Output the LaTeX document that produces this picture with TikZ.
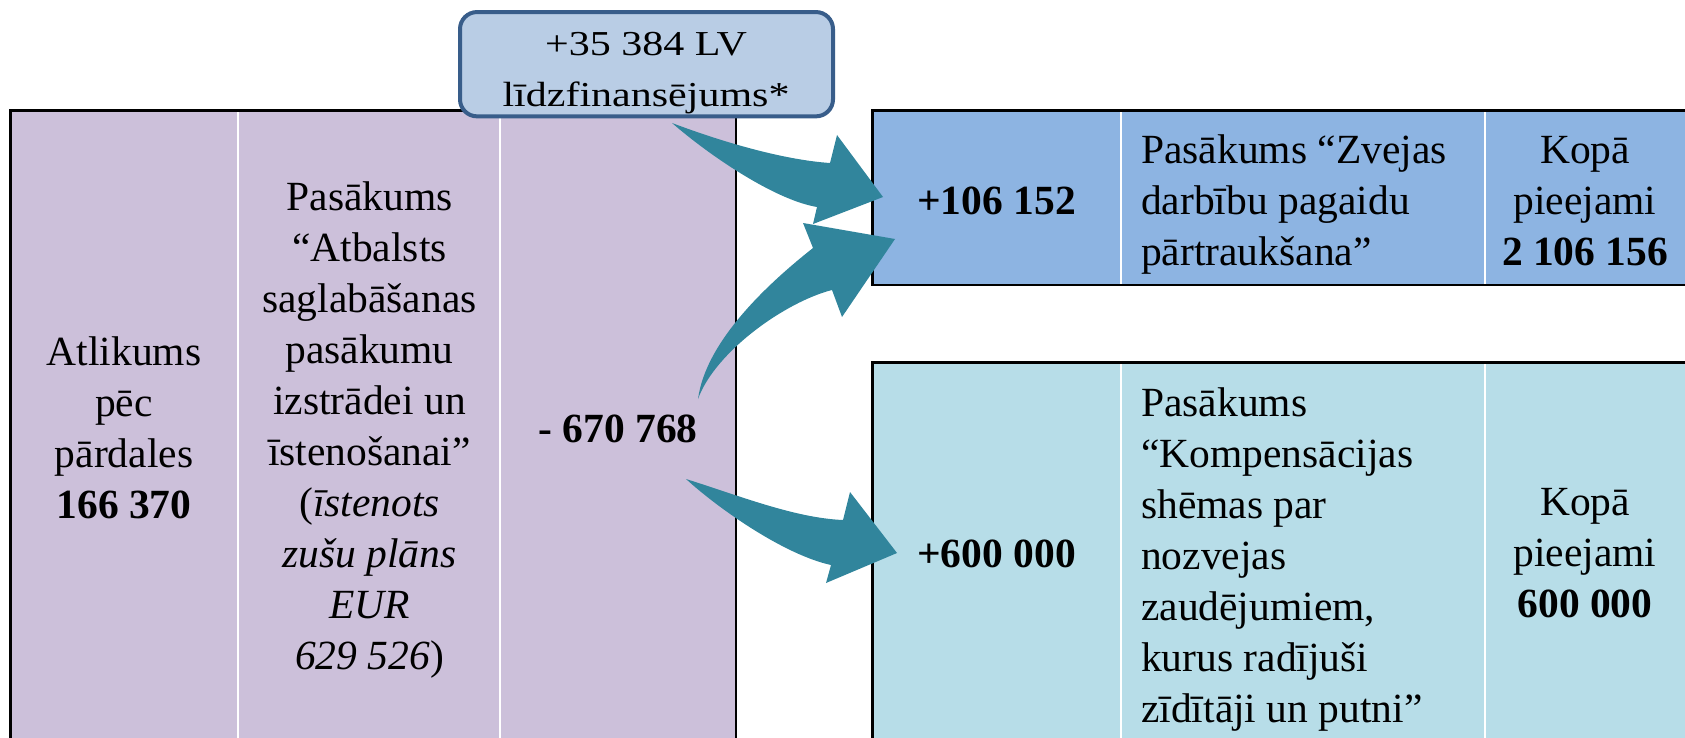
\documentclass[tikz,border=0pt]{standalone}
\usepackage{fontspec}
\setmainfont{Liberation Serif}
\newfontfamily\boxfont{Liberation Serif}[FakeStretch=1.2]
\definecolor{lav}{HTML}{CCC0DA}
\definecolor{blueA}{HTML}{8DB4E2}
\definecolor{blueB}{HTML}{B7DDE8}
\definecolor{boxfill}{HTML}{B9CDE5}
\definecolor{boxline}{HTML}{385D8A}
\definecolor{arrowc}{HTML}{31859C}
\begin{document}
\begin{tikzpicture}[x=1pt,y=-1pt,
  txt/.style={font=\fontsize{41.5}{51}\selectfont, inner sep=0pt, align=center},
  ltxt/.style={font=\fontsize{41.5}{51}\selectfont, inner sep=0pt, align=left, anchor=west},
  btxt/.style={font=\boxfont\fontsize{35}{51}\selectfont, inner sep=0pt, align=center},
  outer/.style={draw=black, line width=2.5pt},
  inner/.style={draw=white, line width=2pt},
  blockarrow/.style={fill=arrowc, draw=none}]
\useasboundingbox (0,0) rectangle (1685,738);
% left table
\fill[lav] (10.7,110.7) rectangle (736,745);
\draw[inner] (238,112) -- (238,745);
\draw[inner] (500,112) -- (500,745);
\draw[outer] (10.7,745) -- (10.7,110.7) -- (736,110.7) -- (736,745);
% top-right table
\fill[blueA] (872.6,110.7) rectangle (1690,284.8);
\draw[inner] (1121,112) -- (1121,283.5);
\draw[inner] (1485,112) -- (1485,283.5);
\draw[outer] (1690,110.7) -- (872.6,110.7) -- (872.6,284.8) -- (1690,284.8);
% bottom-right table
\fill[blueB] (872.6,362.5) rectangle (1690,745);
\draw[inner] (1121,364) -- (1121,745);
\draw[inner] (1485,364) -- (1485,745);
\draw[outer] (872.6,745) -- (872.6,362.5) -- (1690,362.5);
% texts left table
\node[txt] (atl) at (124,428.3) {Atlikums\\pēc\\pārdales\\\textbf{166 370}};
\node[txt] (pas1) at (369.5,430) {Pasākums\\“Atbalsts\\saglabāšanas\\pasākumu\\izstrādei un\\īstenošanai”\\(\textit{īstenots}\\\textit{zušu plāns}\\\textit{EUR}\\\textit{629 526})};
\node[txt] (neg) at (618,428.7) {\textbf{- 670 768}};
% top-right texts
\node[txt] (p106) at (996.5,200.8) {\textbf{+106 152}};
\node[ltxt] (zve) at (1141,205) {Pasākums “Zvejas\\darbību pagaidu\\pārtraukšana”};
\node[txt] (kop1) at (1585,200.8) {Kopā\\pieejami\\\textbf{2 106 156}};
% bottom-right texts
\node[txt] (p600) at (996.5,554.2) {\textbf{+600 000}};
\node[ltxt] (kom) at (1141,559.4) {Pasākums\\“Kompensācijas\\shēmas par\\nozvejas\\zaudējumiem,\\kurus radījuši\\zīdītāji un putni”};
\node[txt] (kop2) at (1585,553.3) {Kopā\\pieejami\\\textbf{600 000}};
% top box
\node[draw=boxline, fill=boxfill, line width=4pt, rounded corners=17pt,
  minimum width=373pt, minimum height=104.3pt, inner sep=0pt] (lv) at (646.5,64.2) {};
\node[btxt] (lvtxt) at (646,73.3) {+35 384 LV\\līdzfinansējums*};
% arrows
\fill[blockarrow] (672,123) .. controls (725,143) and (785,160) .. (830,163)
  -- (837,135) -- (883,197) -- (813,224) -- (817,207)
  .. controls (775,200) and (710,156) .. (672,123) -- cycle;
\fill[blockarrow] (698,399) .. controls (706,340) and (770,282) .. (813,248)
  -- (803,223) -- (895,239) -- (842,317) -- (832,290)
  .. controls (785,302) and (715,352) .. (698,399) -- cycle;
\fill[blockarrow] (686,479) .. controls (740,496) and (795,518) .. (843,520)
  -- (850,492) -- (897,553) -- (826,583) -- (831,565)
  .. controls (785,555) and (720,510) .. (686,479) -- cycle;
\end{tikzpicture}
\end{document}
